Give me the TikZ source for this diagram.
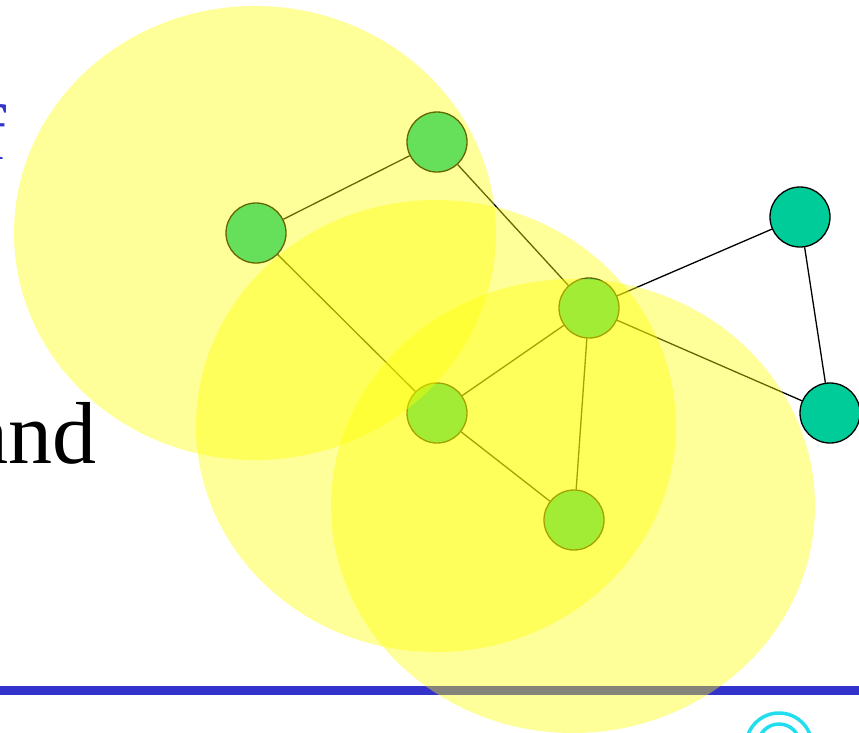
\documentclass[tikz,border=0pt]{standalone}
\usepackage{fontspec}
\setmainfont{Liberation Serif}
\begin{document}
\begin{tikzpicture}[x=1pt,y=-1pt,
  host/.style={circle,draw=black,line width=1.3pt,fill=hostgreen,minimum size=60pt,inner sep=0pt},
  link/.style={draw=black,line width=1.3pt},
  coverage/.style={fill=rangeyellow,fill opacity=0.4}]
\definecolor{hostgreen}{HTML}{00CC99}
\definecolor{rangeyellow}{HTML}{FFFF00}
\definecolor{barblue}{HTML}{3333CC}
\definecolor{logocyan}{HTML}{22DDEE}
\useasboundingbox (0,0) rectangle (859,732);
\begin{scope}
\clip (0,0) rectangle (859,732);

% slide text fragments
\node[anchor=base west,inner sep=0pt,text=barblue,font=\fontsize{78}{80}\selectfont] (ftext) at (-20,159) {f};
\node[anchor=base west,inner sep=0pt,font=\fontsize{88}{90}\selectfont] (andtext) at (-31,463) {and};

% footer bar and logo
\fill[barblue] (0,686) rectangle (859,695);
\draw[logocyan,line width=3.5pt] (779,746) circle[radius=33];
\draw[logocyan,line width=3.5pt] (779,745) circle[radius=21];

% hosts
\node[host] (a) at (437,142) {};
\node[host] (b) at (256,233) {};
\node[host] (c) at (589,308) {};
\node[host] (d) at (437,413) {};
\node[host] (e) at (574,520) {};
\node[host] (f) at (800,217) {};
\node[host] (g) at (830,413) {};

% links
\draw[link] (b) -- (a);
\draw[link] (a) -- (c);
\draw[link] (b) -- (d);
\draw[link] (d) -- (c);
\draw[link] (d) -- (e);
\draw[link] (c) -- (e);
\draw[link] (c) -- (f);
\draw[link] (c) -- (g);
\draw[link] (f) -- (g);

% transmission ranges
\fill[coverage] (255,233) ellipse[x radius=241,y radius=227];
\fill[coverage] (436,426) ellipse[x radius=240,y radius=226];
\fill[coverage] (573,506) ellipse[x radius=242,y radius=227];
\end{scope}
\end{tikzpicture}
\end{document}
